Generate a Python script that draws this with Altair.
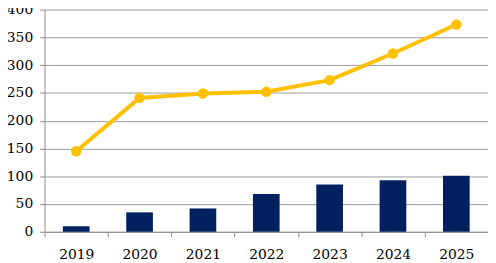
import altair as alt
import pandas as pd

years = ["2019", "2020", "2021", "2022", "2023", "2024", "2025"]
bar_values = [10, 35, 42, 68, 85, 93, 101]
line_values = [145, 241, 249, 252, 273, 321, 373]

df = pd.DataFrame({"year": years, "bar": bar_values, "line": line_values})

FONT = "DejaVu Serif"

x_axis = alt.Axis(labelAngle=0, tickBand="extent", labelPadding=11,
                  grid=False, labelOverlap=False)
x = alt.X("year:N", title=None,
          scale=alt.Scale(paddingInner=0, paddingOuter=0), axis=x_axis)

y_scale = alt.Scale(domain=[0, 400], nice=False)
y_axis = alt.Axis(values=[0, 50, 100, 150, 200, 250, 300, 350, 400],
                  labelPadding=7, labelOverlap=False, labelBound=False,
                  labelFlush=False, grid=True)

base = alt.Chart(df)

bars = base.mark_bar(size=27, color="#002060").encode(
    x=x,
    y=alt.Y("bar:Q", title=None, scale=y_scale, axis=y_axis),
)

line = base.mark_line(color="#FFC000", strokeWidth=4, point=alt.OverlayMarkDef(
    color="#FFC000", size=110, filled=True, opacity=1)).encode(
    x=x,
    y=alt.Y("line:Q", title=None, scale=y_scale, axis=y_axis),
)

chart = alt.layer(bars, line).properties(
    width=449, height=225,
    autosize=alt.AutoSizeParams(type="none"),
    padding={"left": 37, "top": 0, "right": 0, "bottom": 30},
).configure_view(stroke=None).configure_axis(
    labelFont=FONT, labelFontSize=14, labelColor="#000000",
    domainColor="#8c8c8c", tickColor="#8c8c8c", tickSize=5,
    gridColor="#9a9a9a", gridWidth=1, labelOverlap=False,
)

chart.save("out.html", embed_options={"renderer": "svg", "actions": False})
